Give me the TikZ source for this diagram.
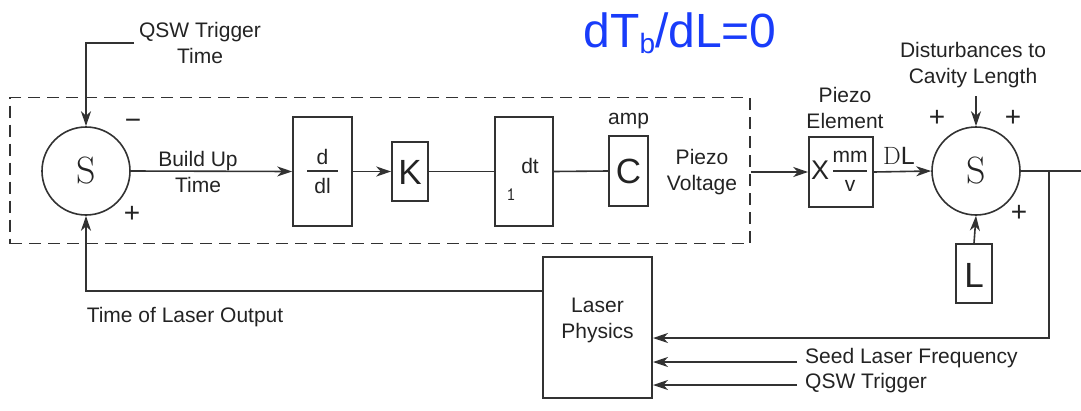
\documentclass[tikz,border=0pt]{standalone}
\usepackage{fontspec}
\setmainfont{Liberation Sans}
\newfontfamily\lmrfont{Latin Modern Roman}
\usetikzlibrary{arrows.meta,calc}
\definecolor{ln}{RGB}{50,50,50}
\definecolor{txt}{RGB}{35,35,35}
\definecolor{bl}{RGB}{25,60,250}
\begin{document}
\begin{tikzpicture}[x=1pt,y=-1pt,
  line/.style={draw=ln, line width=1.6pt},
  arr/.style={line, -{Stealth[length=15pt,width=10pt,inset=4.5pt]}},
  blk/.style={draw=ln, line width=1.6pt, inner sep=0pt, text=txt},
  sumc/.style={circle, draw=ln, line width=1.6pt, minimum size=88pt, inner sep=0pt, text=txt},
  lbl/.style={text=txt, font=\fontsize{21}{26}\selectfont, align=center, inner sep=2pt},
  big/.style={text=txt, font=\fontsize{35}{35}\selectfont, inner sep=0pt},
  sgn/.style={text=txt, font=\fontsize{28}{28}\selectfont, inner sep=0pt},
]
\useasboundingbox (0,0) rectangle (1081,410);

% controller (dashed)
\node[draw=ln, line width=1.6pt, dash pattern=on 12pt off 7pt, minimum width=740pt, minimum height=146pt, inner sep=0pt] (ctrl) at (380,170.5) {};

% summing junctions
\node[sumc] (s1) at (86,171) {\lmrfont\fontsize{38}{38}\selectfont S};
\node[sumc] (s2) at (976,171) {\lmrfont\fontsize{38}{38}\selectfont S};

% blocks
\node[blk, minimum width=59pt, minimum height=109pt] (ddl) at (322.5,171.5) {};
\node[blk, minimum width=36pt, minimum height=59pt] (k) at (410,171.5) {};
\node[big] (ktxt) at (410,172) {K};
\node[blk, minimum width=58pt, minimum height=109pt] (int) at (524,171.5) {};
\node[blk, minimum width=39pt, minimum height=70pt] (c) at (628.5,171) {};
\node[big] (ctxt) at (628.5,171) {C};
\node[blk, minimum width=64pt, minimum height=70pt] (xb) at (841,172) {};
\node[blk, minimum width=36pt, minimum height=59pt] (lb) at (974,273.5) {};
\node[big] (ltxt) at (974,275) {L};
\node[blk, minimum width=109pt, minimum height=141pt] (lp) at (597.5,327.5) {};
\node[lbl] (lptxt) at (597.5,320) {Laser\\Physics};

% block contents
\node[lbl] (dtop) at (322.5,157) {d};
\draw[line, line width=1.2pt] (307,171) -- (338,171);
\node[lbl] (dbot) at (322.5,186) {dl};
\node[lbl] (dt) at (530,166) {dt};
\node[text=txt, font=\fontsize{19}{19}\ttfamily, inner sep=0pt] (one) at (511,195) {1};
\node[lbl] (amp) at (628.5,121) {amp};
\node[text=txt, font=\fontsize{27}{27}\selectfont, inner sep=0pt] (xtxt) at (820,170) {X};
\node[lbl] (mm) at (850,157) {mm};
\draw[line, line width=1.2pt] (833,171) -- (867,171);
\node[lbl] (v) at (850,186) {v};

% labels
\node[lbl] (qsw) at (200,43) {QSW Trigger\\Time};
\node[lbl] (but) at (198,172) {Build Up\\Time};
\node[lbl] (pv) at (702,172) {Piezo\\Voltage};
\node[lbl] (pe) at (845,107.5) {Piezo\\Element};
\node[lbl] (dist) at (973,65) {Disturbances to\\Cavity Length};
\node[lbl] (tlo) at (185,317) {Time of Laser Output};
\node[lbl, anchor=west] (seed) at (803,358) {Seed Laser Frequency};
\node[lbl, anchor=west] (qswt) at (803,383) {QSW Trigger};
\node[text=txt, font=\fontsize{25}{25}\selectfont, inner sep=0pt] (dl) at (899,156) {{\lmrfont D}L};
\node[text=bl, font=\fontsize{48}{48}\selectfont, inner sep=0pt] (eq) at (680,33) {dT\raisebox{-0.12em}{\fontsize{28}{28}\selectfont b}/dL=0};

% signs
\node[sgn] (m1) at (133,124) {\symbol{"2212}};
\node[sgn] (p1) at (132,214) {+};
\node[sgn] (p2) at (937,118) {+};
\node[sgn] (p3) at (1013,118) {+};
\node[sgn] (p4) at (1019,213) {+};

% coordinates
\coordinate (qswc) at (134,43);
\coordinate (distc) at (976,96);
\coordinate (out) at (1081,171);
\coordinate (br) at (1049,171);
\coordinate (fbin) at (653,338);
\coordinate (seedc) at (797,362);
\coordinate (seedin) at (653,362);
\coordinate (qswtc) at (797,385);
\coordinate (qswtin) at (653,385);
\coordinate (lpout) at (543,291);

% connectors
\draw[arr] (qswc) -| (s1.north);
\draw[arr] (s1.east) -- (ddl.west);
\draw[arr] (ddl.east) -- (k.west);
\draw[line] (k.east) -- (int.west);
\draw[line] (int.east) -- (c.west);
\draw[arr] (ctrl.east |- xb.west) -- (xb.west);
\draw[arr] (xb.east) -- (s2.west);
\draw[arr] (distc) -- (s2.north);
\draw[arr] (lb.north) -- (s2.south);
\draw[line] (s2.east) -- (out);
\draw[arr] (br) |- (fbin);
\draw[arr] (seedc) -- (seedin);
\draw[arr] (qswtc) -- (qswtin);
\draw[arr] (lpout) -| (s1.south);
\end{tikzpicture}
\end{document}
